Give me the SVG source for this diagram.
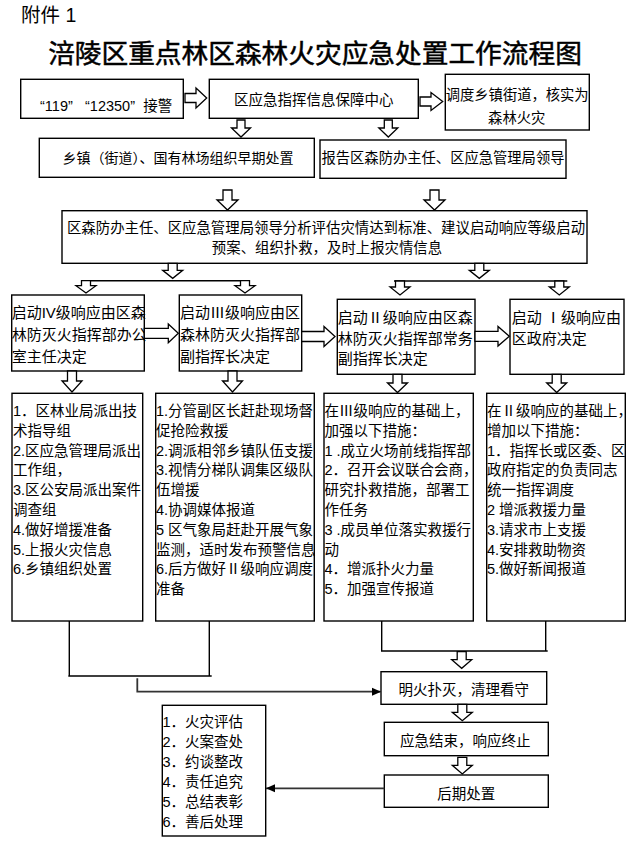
<svg xmlns="http://www.w3.org/2000/svg" width="641" height="845" viewBox="0 0 641 845">
<style>
.bx{fill:#fff;stroke:#000;stroke-width:1.4}
.t{font-family:"Liberation Sans","Noto Sans CJK SC",sans-serif;font-size:14.5px;fill:#000}
.l{font-size:15px}
.r{font-family:"Noto Sans CJK SC",sans-serif}
.ha{fill:#fff;stroke:#000;stroke-width:1.3;stroke-linejoin:miter}
.ln{fill:none;stroke:#000;stroke-width:1.4}
.cn{fill:none;stroke:#333;stroke-width:1.8}
</style>
<defs>
<marker id="ah" markerUnits="userSpaceOnUse" markerWidth="10" markerHeight="10" viewBox="0 0 10 10" refX="9" refY="5" orient="auto">
<path d="M0,1 L9,5 L0,9 Z" fill="#000"/>
</marker>
</defs>
<rect width="641" height="845" fill="#fff"/>
<text class="t" x="21" y="22.3" style="font-size:19.5px">附件 1</text>
<text class="t" x="315" y="63.3" text-anchor="middle" style="font-size:26.7px;stroke:#000;stroke-width:0.5">涪陵区重点林区森林火灾应急处置工作流程图</text>

<g id="n-receive">
<rect class="bx" x="20.7" y="79.3" width="162.6" height="39"/>
<text class="t"><tspan x="40" y="111.4">“119”</tspan><tspan x="85" y="111.4">“12350”</tspan><tspan x="143.3" y="111.4">接警</tspan></text>
</g>
<g id="n-center">
<rect class="bx" x="209.3" y="79.3" width="209" height="39"/>
<text class="t" x="313.8" y="104.7" text-anchor="middle">区应急指挥信息保障中心</text>
</g>
<g id="n-dispatch">
<rect class="bx" x="445.3" y="74.3" width="144" height="55.7"/>
<text class="t" x="517.2" y="100.4" text-anchor="middle" style="font-size:14.3px">调度乡镇街道，核实为</text>
<text class="t" x="516.7" y="122.7" text-anchor="middle" style="font-size:14.3px">森林火灾</text>
</g>
<g id="n-early">
<rect class="bx" x="39.3" y="138.3" width="275" height="39"/>
<text class="t" x="178" y="163.3" text-anchor="middle" style="font-size:14px">乡镇（街道）、国有林场组织早期处置</text>
</g>
<g id="n-report">
<rect class="bx" x="320" y="140" width="246" height="38.3"/>
<text class="t" x="443" y="163.3" text-anchor="middle" style="font-size:14.3px">报告区森防办主任、区应急管理局领导</text>
</g>
<g id="n-assess">
<rect class="bx" x="62" y="210.7" width="525" height="52.6"/>
<text class="t" x="326" y="233.4" text-anchor="middle" style="font-size:14.4px">区森防办主任、区应急管理局领导分析评估灾情达到标准、建议启动响应等级启动</text>
<text class="t" x="327" y="253.4" text-anchor="middle" style="font-size:14.4px">预案、组织扑救，及时上报灾情信息</text>
</g>

<g id="n-l4">
<rect class="bx" x="11.7" y="295" width="132.6" height="76"/>
<text class="t l" x="11.7" y="318.3">启动IV级响应由区森</text>
<text class="t l" x="11.7" y="339.6">林防灭火指挥部办公</text>
<text class="t l" x="11.7" y="362.3">室主任决定</text>
</g>
<g id="n-l3">
<rect class="bx" x="179.3" y="295" width="122.4" height="76"/>
<text class="t l" x="180" y="318.3">启动<tspan class="r">Ⅲ</tspan>级响应由区</text>
<text class="t l" x="180" y="339.6">森林防灭火指挥部</text>
<text class="t l" x="180" y="362.3">副指挥长决定</text>
</g>
<g id="n-l2">
<rect class="bx" x="337.3" y="299.3" width="137.7" height="75"/>
<text class="t l" x="337.8" y="322.9">启动<tspan class="r">Ⅱ</tspan>级响应由区森</text>
<text class="t l" x="337.8" y="343.9">林防灭火指挥部常务</text>
<text class="t l" x="337.8" y="363.9">副指挥长决定</text>
</g>
<g id="n-l1">
<rect class="bx" x="510" y="299.3" width="114" height="75"/>
<text class="t l" x="511.7" y="322.9">启动 <tspan class="r">Ⅰ</tspan>级响应由</text>
<text class="t l" x="511.7" y="343.9">区政府决定</text>
</g>

<g id="n-d4">
<rect class="bx" x="12" y="393.3" width="130.7" height="227.7"/>
<text class="t">
<tspan x="13" y="416">1．区林业局派出技</tspan>
<tspan x="13" y="435.8">术指导组</tspan>
<tspan x="13" y="455.6">2.区应急管理局派出</tspan>
<tspan x="13" y="475.4">工作组，</tspan>
<tspan x="13" y="495.2">3.区公安局派出案件</tspan>
<tspan x="13" y="515">调查组</tspan>
<tspan x="13" y="534.8">4.做好增援准备</tspan>
<tspan x="13" y="554.6">5.上报火灾信息</tspan>
<tspan x="13" y="574.4">6.乡镇组织处置</tspan>
</text>
</g>
<g id="n-d3">
<rect class="bx" x="155.7" y="393.3" width="158.6" height="227.7"/>
<text class="t">
<tspan x="156" y="416">1.分管副区长赶赴现场督</tspan>
<tspan x="156" y="435.8">促抢险救援</tspan>
<tspan x="156" y="455.6">2.调派相邻乡镇队伍支援</tspan>
<tspan x="156" y="475.4">3.视情分梯队调集区级队</tspan>
<tspan x="156" y="495.2">伍增援</tspan>
<tspan x="156" y="515">4.协调媒体报道</tspan>
<tspan x="156" y="534.8">5 区气象局赶赴开展气象</tspan>
<tspan x="156" y="554.6">监测，适时发布预警信息</tspan>
<tspan x="156" y="574.4">6.后方做好<tspan class="r">Ⅱ</tspan>级响应调度</tspan>
<tspan x="156" y="594.2">准备</tspan>
</text>
</g>
<g id="n-d2">
<rect class="bx" x="324" y="393.3" width="149.3" height="227.7"/>
<text class="t">
<tspan x="324.5" y="416">在<tspan class="r">Ⅲ</tspan>级响应的基础上，</tspan>
<tspan x="324.5" y="435.8">加强以下措施：</tspan>
<tspan x="324.5" y="455.6">1 .成立火场前线指挥部</tspan>
<tspan x="324.5" y="475.4">2．召开会议联合会商，</tspan>
<tspan x="324.5" y="495.2">研究扑救措施，部署工</tspan>
<tspan x="324.5" y="515">作任务</tspan>
<tspan x="324.5" y="534.8">3 .成员单位落实救援行</tspan>
<tspan x="324.5" y="554.6">动</tspan>
<tspan x="324.5" y="574.4">4．增派扑火力量</tspan>
<tspan x="324.5" y="594.2">5．加强宣传报道</tspan>
</text>
</g>
<g id="n-d1">
<rect class="bx" x="486.7" y="393.3" width="138.6" height="227.7"/>
<text class="t">
<tspan x="487" y="416">在<tspan class="r">Ⅱ</tspan>级响应的基础上，</tspan>
<tspan x="487" y="435.8">增加以下措施：</tspan>
<tspan x="487" y="455.6">1．指挥长或区委、区</tspan>
<tspan x="487" y="475.4">政府指定的负责同志</tspan>
<tspan x="487" y="495.2">统一指挥调度</tspan>
<tspan x="487" y="515">2 增派救援力量</tspan>
<tspan x="487" y="534.8">3.请求市上支援</tspan>
<tspan x="487" y="554.6">4.安排救助物资</tspan>
<tspan x="487" y="574.4">5.做好新闻报道</tspan>
</text>
</g>

<g id="n-extinguish">
<rect class="bx" x="381" y="671.7" width="165.7" height="32.6"/>
<text class="t" x="463.8" y="694.7" text-anchor="middle">明火扑灭，清理看守</text>
</g>
<g id="n-end">
<rect class="bx" x="384.3" y="722.3" width="164" height="33.4"/>
<text class="t" x="465.3" y="746.1" text-anchor="middle">应急结束，响应终止</text>
</g>
<g id="n-after">
<rect class="bx" x="384.3" y="775" width="164" height="32.3"/>
<text class="t" x="466.2" y="798.7" text-anchor="middle">后期处置</text>
</g>
<g id="n-list">
<rect class="bx" x="162.3" y="705.3" width="103.4" height="130.7"/>
<text class="t">
<tspan x="162.5" y="727.1">1．火灾评估</tspan>
<tspan x="162.5" y="747.1">2．火案查处</tspan>
<tspan x="162.5" y="767.1">3．约谈整改</tspan>
<tspan x="162.5" y="787.1">4．责任追究</tspan>
<tspan x="162.5" y="807.1">5．总结表彰</tspan>
<tspan x="162.5" y="827.1">6．善后处理</tspan>
</text>
</g>

<g id="connectors">
<path class="ha" d="M185,93.5 H196 V88 L206.7,98 L196,108 V102.5 H185 Z"/>
<path class="ha" d="M420,97 H431 V92.5 L442.7,101.5 L431,110.5 V106 H420 Z"/>
<path class="ha" d="M237,120 H245 V128 H250.5 L241,137 L231.5,128 H237 Z"/>
<path class="ha" d="M384.3,120 H392.3 V128 H397.8 L388.3,137 L378.8,128 H384.3 Z"/>
<path class="ha" d="M223,190 H232 V200 H238 L227.5,210 L217,200 H223 Z"/>
<path class="ha" d="M430,190 H439 V200 H445 L434.5,210 L424,200 H430 Z"/>
<path class="ha" d="M168.2,263.3 H177.2 V270.3 H182.7 L172.7,278.3 L162.7,270.3 H168.2 Z"/>
<path class="ha" d="M474.8,263.3 H483.8 V270.3 H489.3 L479.3,278.3 L469.3,270.3 H474.8 Z"/>
<path class="ln" d="M86,280.7 H245 M394,281 H567.3"/>
<path class="ha" d="M81.5,280.7 H90.5 V285.7 H96 L86,293 L76,285.7 H81.5 Z"/>
<path class="ha" d="M240.5,280.7 H249.5 V285.7 H255 L245,293 L235,285.7 H240.5 Z"/>
<path class="ha" d="M395.5,281 H404.5 V287 H410 L400,295 L390,287 H395.5 Z"/>
<path class="ha" d="M554.8,281 H563.8 V287 H569.3 L559.3,295 L549.3,287 H554.8 Z"/>
<path class="ha" d="M144.3,328.3 H168.3 V324 L178.3,333.3 L168.3,342.7 V338.3 H144.3 Z"/>
<path class="ha" d="M301.7,331.5 H324 V326.5 L335,336.5 L324,346.5 V341.5 H301.7 Z"/>
<path class="ha" d="M475,331.3 H498 V326.5 L509.3,336.3 L498,346 V341.3 H475 Z"/>
<path class="ha" d="M67.5,371 H76.5 V381 H82 L72,392 L62,381 H67.5 Z"/>
<path class="ha" d="M228,371 H237 V381 H242.5 L232.5,392 L222.5,381 H228 Z"/>
<path class="ha" d="M393,374.3 H402 V383 H407.5 L397.5,392.5 L387.5,383 H393 Z"/>
<path class="ha" d="M552.2,374.3 H561.2 V383 H566.7 L556.7,392.5 L546.7,383 H552.2 Z"/>
<path class="ln" d="M69.3,621 V676 M209.3,621 V676 M68.3,676 H211.7"/>
<path class="cn" d="M137.3,678.3 V691.7 H381" marker-end="url(#ah)"/>
<path class="ln" d="M381.7,621 V651 H547.7 M545.7,621 V651"/>
<path class="ha" d="M457.2,651.7 H466.2 V659.7 H471.7 L461.7,668.3 L451.7,659.7 H457.2 Z"/>
<path class="ha" d="M457.8,704.3 H466.8 V712.3 H472.3 L462.3,720.7 L452.3,712.3 H457.8 Z"/>
<path class="ha" d="M457.8,757.3 H466.8 V765.3 H472.3 L462.3,774 L452.3,765.3 H457.8 Z"/>
<path class="cn" d="M384.3,788.3 H266" marker-end="url(#ah)"/>
</g>
</svg>
